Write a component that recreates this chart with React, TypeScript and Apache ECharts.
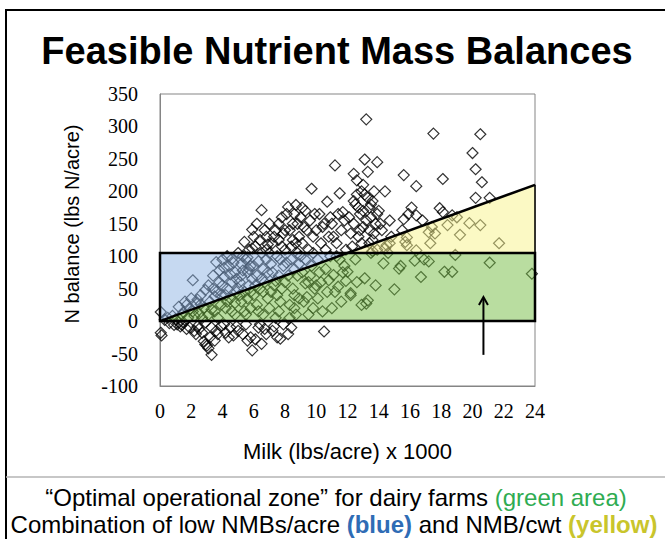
import React, { useEffect, useRef } from "react";
import * as echarts from "echarts";

const TITLE = "Feasible Nutrient Mass Balances";
const X_NAME = "Milk (lbs/acre) x 1000";
const Y_NAME = "N balance (lbs N/acre)";
const X_MIN = 0;
const X_MAX = 24;
const X_STEP = 2;
const Y_MIN = -100;
const Y_MAX = 350;
const Y_STEP = 50;

// zone limits
const ZONE_TOP = 105; // low NMB/acre limit (blue box top)
const CWT_LINE = [
  [0, 0],
  [24, 210],
]; // NMB/cwt limit (yellow wedge)
const ARROW = [
  [20.7, -52],
  [20.7, 37],
];

const farmsLow = [
  [0.05, 14], [0.05, -18], [0.1, -22], [0.3, 2], [0.5, 5], [0.6, -3], [0.8, 8], [0.9, -6], [1.0, 3],
  [1.1, -5], [1.2, 22], [1.3, -8], [1.4, 10], [1.5, -2], [1.6, 30], [1.7, -12], [1.8, 5], [1.9, 18],
  [1.2, -2], [1.5, 14], [1.9, -10], [1.7, 25], [1.4, -6],
  [2.1, 63], [2.0, 35], [2.2, -15], [2.3, 28], [2.4, -8], [2.5, 12], [2.6, 40], [2.7, -18], [2.8, -31],
  [2.8, 20], [2.9, -36], [2.9, 48], [2.2, 8], [2.5, -12], [2.6, 26], [2.3, -20], [2.1, 15], [2.7, 5],
  [2.4, 33], [2.9, -2],
  [3.0, -38], [3.1, -42], [3.3, -52], [3.1, 55], [3.2, 30], [3.3, -10], [3.4, 70], [3.5, 15], [3.6, 91],
  [3.6, 45], [3.7, -20], [3.8, 60], [3.9, 25], [3.2, -25], [3.5, 38], [3.7, 5], [3.9, -8], [3.3, 18],
  [3.8, 78], [3.4, 50], [3.6, -15], [3.9, 40], [3.1, 10], [3.5, -30],
];

const farmsMid = [
  [4.0, 95], [4.1, 68], [4.2, 20], [4.2, -18], [4.3, 50], [4.4, 85], [4.5, -10], [4.5, 35], [4.6, 96],
  [4.6, 60], [4.7, -22], [4.8, 10], [4.8, 75], [4.9, 45], [4.1, -5], [4.3, 30], [4.4, -25], [4.7, 90],
  [4.9, -8], [4.0, 55], [4.5, 72], [4.2, 40], [4.8, 28], [4.6, 15], [4.3, 100], [4.9, 65], [4.1, 82],
  [5.0, -15], [5.0, 105], [5.1, 60], [5.2, 30], [5.2, 88], [5.3, -20], [5.4, 122], [5.4, 45], [5.5, 95],
  [5.5, 10], [5.6, 75], [5.6, -30], [5.7, 110], [5.7, 55], [5.8, 20], [5.8, 85], [5.9, 141], [5.9, -45],
  [5.9, 65], [5.1, 40], [5.3, 100], [5.5, -5], [5.6, 35], [5.8, -25], [5.2, 70], [5.4, 15], [5.7, 80],
  [5.9, 112], [5.0, 50], [5.3, 78], [5.6, 98], [5.8, 45],
  [6.0, 130], [6.1, 115], [6.1, -28], [6.2, 70], [6.2, 25], [6.3, 92], [6.3, -10], [6.4, 125], [6.4, 50],
  [6.5, 171], [6.5, -35], [6.5, 105], [6.6, 80], [6.6, 10], [6.7, 140], [6.7, 60], [6.8, -20], [6.8, 95],
  [6.9, 35], [6.9, 118], [6.0, 85], [6.2, 150], [6.4, -5], [6.6, 45], [6.8, 130], [6.1, 55], [6.3, 15],
  [6.7, -12], [6.9, 75], [6.5, 65], [6.0, 40], [6.8, 110],
  [7.0, 150], [7.0, 20], [7.1, 88], [7.2, -15], [7.2, 120], [7.3, 55], [7.4, 140], [7.4, 5], [7.5, 100],
  [7.5, -25], [7.6, 150], [7.6, 70], [7.7, -27], [7.7, 30], [7.8, 115], [7.8, 160], [7.9, 85], [7.9, -5],
  [7.1, 45], [7.3, 130], [7.5, 40], [7.7, 95], [7.2, 75], [7.6, 15], [7.9, 135], [7.0, 105], [7.4, 62],
  [7.8, 50], [7.3, -8], [7.6, 125],
  [8.0, 110], [8.1, 165], [8.2, 176], [8.2, 70], [8.3, 25], [8.3, 140], [8.4, 95], [8.4, -10], [8.5, 125],
  [8.5, 50], [8.6, 165], [8.6, 80], [8.7, 179], [8.7, 10], [8.8, 105], [8.8, 150], [8.9, 35], [8.9, 130],
  [8.0, 60], [8.2, -20], [8.4, 115], [8.6, 40], [8.8, 70], [8.1, 90], [8.5, 150], [8.9, 88], [8.3, 5],
  [8.7, 120], [8.0, 140], [8.6, 20],
];

const farmsHigh = [
  [9.0, 160], [9.1, 75], [9.1, 120], [9.2, 30], [9.3, 170], [9.3, 95], [9.4, 37], [9.4, 140], [9.5, 110],
  [9.5, 60], [9.6, 155], [9.7, 204], [9.7, 85], [9.8, 20], [9.8, 130], [9.9, 165], [9.9, 50], [9.0, 100],
  [9.2, 145], [9.5, 10], [9.6, 70], [9.3, 58], [9.8, 105], [9.1, 175],
  [10.0, 140], [10.1, 95], [10.1, 35], [10.2, 165], [10.3, 60], [10.3, 120], [10.4, 15], [10.5, -16],
  [10.5, 150], [10.6, 80], [10.7, 184], [10.7, 45], [10.8, 130], [10.8, 63], [10.9, 100], [10.9, 160],
  [10.2, 75], [10.6, 110], [10.4, 145], [10.0, 55],
  [11.0, 150], [11.1, 71], [11.2, 240], [11.2, 45], [11.3, 120], [11.4, 53], [11.4, 165], [11.5, 197],
  [11.5, 95], [11.6, 140], [11.7, 75], [11.8, 85], [11.8, 155], [11.9, 110], [11.1, 130], [11.6, 30],
  [11.3, 100], [11.9, 62], [11.0, 20], [11.7, 168],
  [12.0, 76], [12.2, 40], [12.2, 43], [12.4, 227], [12.4, 150], [12.5, 180], [12.6, 217], [12.6, 195],
  [12.7, 130], [12.8, 165], [12.9, 200], [12.3, 115], [12.5, 95], [12.8, 140], [12.1, 160], [12.9, 120],
  [12.6, 60], [12.4, 185], [12.7, 175], [12.2, 135], [12.9, 25],
  [13.0, 210], [13.1, 249], [13.1, 66], [13.2, 311], [13.2, 27], [13.3, 230], [13.3, 32], [13.3, 190],
  [13.4, 175], [13.4, 140], [13.5, 160], [13.5, 105], [13.6, 185], [13.6, 125], [13.7, 200], [13.8, 55],
  [13.8, 150], [13.9, 245], [13.9, 110], [13.0, 170], [13.2, 155], [13.4, 120], [13.7, 135], [13.1, 195],
  [13.5, 180], [13.9, 165], [13.0, 145], [13.6, 108],
];

const farmsTop = [
  [14.0, 170], [14.3, 89], [14.4, 200], [14.4, 112], [14.5, 117], [14.7, 155], [14.2, 140], [14.8, 130],
  [14.1, 150], [14.6, 105], [14.7, 120], [15.0, 49],
  [15.3, 81], [15.4, 85], [15.6, 225], [15.6, 157], [15.7, 122], [15.8, 117], [15.8, 129], [15.9, 165],
  [15.5, 140],
  [16.1, 175], [16.3, 93], [16.4, 208], [16.4, 109], [16.4, 163], [16.7, 68], [16.8, 155], [16.9, 95],
  [17.2, 92], [17.2, 137], [17.4, 145], [17.5, 289], [17.6, 135], [17.9, 174], [17.3, 120],
  [18.1, 219], [18.1, 168], [18.4, 148], [18.2, 76], [18.7, 163], [18.7, 76], [18.9, 102], [19.0, 160],
  [19.2, 133], [19.8, 151], [20.0, 259],
  [20.2, 234], [20.2, 190], [20.5, 288], [20.6, 214], [20.5, 148],
  [21.1, 190], [21.1, 90], [21.7, 120], [23.8, 73],
];

const ZONE_FILLS = {
  blue: "rgba(141,179,227,0.5)",
  green: "rgba(115,187,65,0.5)",
  yellow: "rgba(247,243,137,0.5)",
};

export default function App() {
  const ref = useRef<HTMLDivElement>(null);

  useEffect(() => {
    const chart = echarts.init(ref.current as HTMLDivElement, null, { renderer: "svg" });
    const farms = [...farmsLow, ...farmsMid, ...farmsHigh, ...farmsTop];

    const renderZones = (params: any, api: any) => {
      const [x0, y0] = CWT_LINE[0];
      const [x1, y1] = CWT_LINE[1];
      const slope = (y1 - y0) / (x1 - x0);
      const xc = x0 + (ZONE_TOP - y0) / slope;
      const c = (x: number, y: number) => api.coord([x, y]);
      return {
        type: "group",
        children: [
          {
            type: "polygon",
            shape: { points: [c(x0, y0), c(x0, ZONE_TOP), c(xc, ZONE_TOP)] },
            style: { fill: ZONE_FILLS.blue },
          },
          {
            type: "polygon",
            shape: { points: [c(x0, y0), c(xc, ZONE_TOP), c(x1, ZONE_TOP), c(x1, 0)] },
            style: { fill: ZONE_FILLS.green },
          },
          {
            type: "polygon",
            shape: { points: [c(xc, ZONE_TOP), c(x1, y1), c(x1, ZONE_TOP)] },
            style: { fill: ZONE_FILLS.yellow },
          },
        ],
      };
    };

    const renderOutlines = (params: any, api: any) => {
      const [x0, y0] = CWT_LINE[0];
      const [x1, y1] = CWT_LINE[1];
      const c = (x: number, y: number) => api.coord([x, y]);
      const a = c(x0, y0);
      const b = c(x1, y1);
      const e = c(x1, ZONE_TOP);
      return {
        type: "group",
        children: [
          {
            type: "polygon",
            shape: { points: [c(x0, 0), c(x0, ZONE_TOP), c(x1, ZONE_TOP), c(x1, 0)] },
            style: { fill: "none", stroke: "#000", lineWidth: 2.5 },
          },
          {
            type: "line",
            shape: { x1: a[0], y1: a[1], x2: b[0], y2: b[1] },
            style: { stroke: "#000", lineWidth: 2.5 },
          },
          {
            type: "line",
            shape: { x1: e[0], y1: e[1], x2: b[0], y2: b[1] },
            style: { stroke: "#000", lineWidth: 1.5 },
          },
        ],
      };
    };

    const renderArrow = (params: any, api: any) => {
      const s = api.coord(ARROW[0]);
      const t = api.coord(ARROW[1]);
      return {
        type: "group",
        children: [
          {
            type: "line",
            shape: { x1: s[0], y1: s[1], x2: t[0], y2: t[1] + 1 },
            style: { stroke: "#000", lineWidth: 2 },
          },
          {
            type: "polyline",
            shape: { points: [[t[0] - 4.5, t[1] + 8], [t[0], t[1]], [t[0] + 4.5, t[1] + 8]] },
            style: { fill: "none", stroke: "#000", lineWidth: 2 },
          },
        ],
      };
    };

    const option = {
      animation: false,
      backgroundColor: "#fff",
      grid: {
        left: 160,
        top: 94,
        width: 375,
        height: 292,
        show: true,
        borderColor: "#858585",
        borderWidth: 1,
        backgroundColor: "transparent",
      },
      xAxis: {
        type: "value",
        min: X_MIN,
        max: X_MAX,
        interval: X_STEP,
        name: X_NAME,
        nameLocation: "middle",
        nameGap: 54,
        nameTextStyle: { fontFamily: "Liberation Sans", fontSize: 22, color: "#000" },
        axisLine: { onZero: false, lineStyle: { color: "#858585", width: 1 } },
        axisTick: { show: false },
        splitLine: { show: false },
        axisLabel: { fontFamily: "Liberation Serif", fontSize: 20, color: "#000", margin: 15 },
      },
      yAxis: {
        type: "value",
        min: Y_MIN,
        max: Y_MAX,
        interval: Y_STEP,
        axisLine: { show: true, onZero: false, lineStyle: { color: "#858585", width: 1 } },
        axisTick: { show: false },
        splitLine: { show: false },
        axisLabel: { fontFamily: "Liberation Serif", fontSize: 20, color: "#000", margin: 22 },
      },
      series: [
        {
          type: "scatter",
          data: farms,
          symbol: "diamond",
          symbolSize: 11,
          z: 2,
          silent: true,
          itemStyle: { color: "rgba(0,0,0,0)", borderColor: "#000", borderWidth: 1.2 },
        },
        {
          type: "custom",
          data: [[0, 0]],
          renderItem: renderZones,
          z: 3,
          silent: true,
        },
        {
          type: "custom",
          data: [[0, 0]],
          renderItem: renderOutlines,
          z: 4,
          silent: true,
        },
        {
          type: "custom",
          data: [[0, 0]],
          renderItem: renderArrow,
          z: 5,
          silent: true,
        },
      ],
      graphic: [
        {
          type: "line",
          shape: { x1: 5, y1: 10, x2: 665, y2: 10 },
          style: { stroke: "#000", lineWidth: 2 },
        },
        {
          type: "line",
          shape: { x1: 6, y1: 9, x2: 6, y2: 539 },
          style: { stroke: "#000", lineWidth: 2 },
        },
        {
          type: "line",
          shape: { x1: 6, y1: 477, x2: 665, y2: 477 },
          style: { stroke: "#b4b4b4", lineWidth: 1.5 },
        },
        {
          type: "text",
          x: 72,
          y: 224,
          rotation: Math.PI / 2,
          style: {
            text: Y_NAME,
            fontFamily: "Liberation Sans",
            fontSize: 20,
            fill: "#000",
            align: "center",
            verticalAlign: "middle",
          },
        },
        {
          type: "text",
          x: 337,
          y: 51,
          style: {
            text: TITLE,
            fontFamily: "Liberation Sans",
            fontWeight: "bold",
            fontSize: 38,
            fill: "#000",
            align: "center",
            verticalAlign: "middle",
          },
        },
        {
          type: "text",
          x: 336,
          y: 497,
          style: {
            text: "\u201COptimal operational zone\u201D for dairy farms {g|(green area)}",
            fontFamily: "Liberation Sans",
            fontSize: 24,
            fill: "#000",
            align: "center",
            verticalAlign: "middle",
            rich: {
              g: { fontFamily: "Liberation Sans", fontSize: 24, fill: "#2fac52" },
            },
          },
        },
        {
          type: "text",
          x: 334,
          y: 524,
          style: {
            text: "Combination of low NMBs/acre {b|(blue)} and NMB/cwt {y|(yellow)}",
            fontFamily: "Liberation Sans",
            fontSize: 24,
            fill: "#000",
            align: "center",
            verticalAlign: "middle",
            rich: {
              b: { fontFamily: "Liberation Sans", fontSize: 24, fontWeight: "bold", fill: "#2f6cb5" },
              y: { fontFamily: "Liberation Sans", fontSize: 24, fontWeight: "bold", fill: "#c9c52c" },
            },
          },
        },
      ],
    };

    chart.setOption(option as any);
    return () => chart.dispose();
  }, []);

  return (
    <div
      ref={ref}
      style={{ position: "fixed", left: 0, top: 0, width: 665, height: 539, background: "#fff" }}
    />
  );
}
